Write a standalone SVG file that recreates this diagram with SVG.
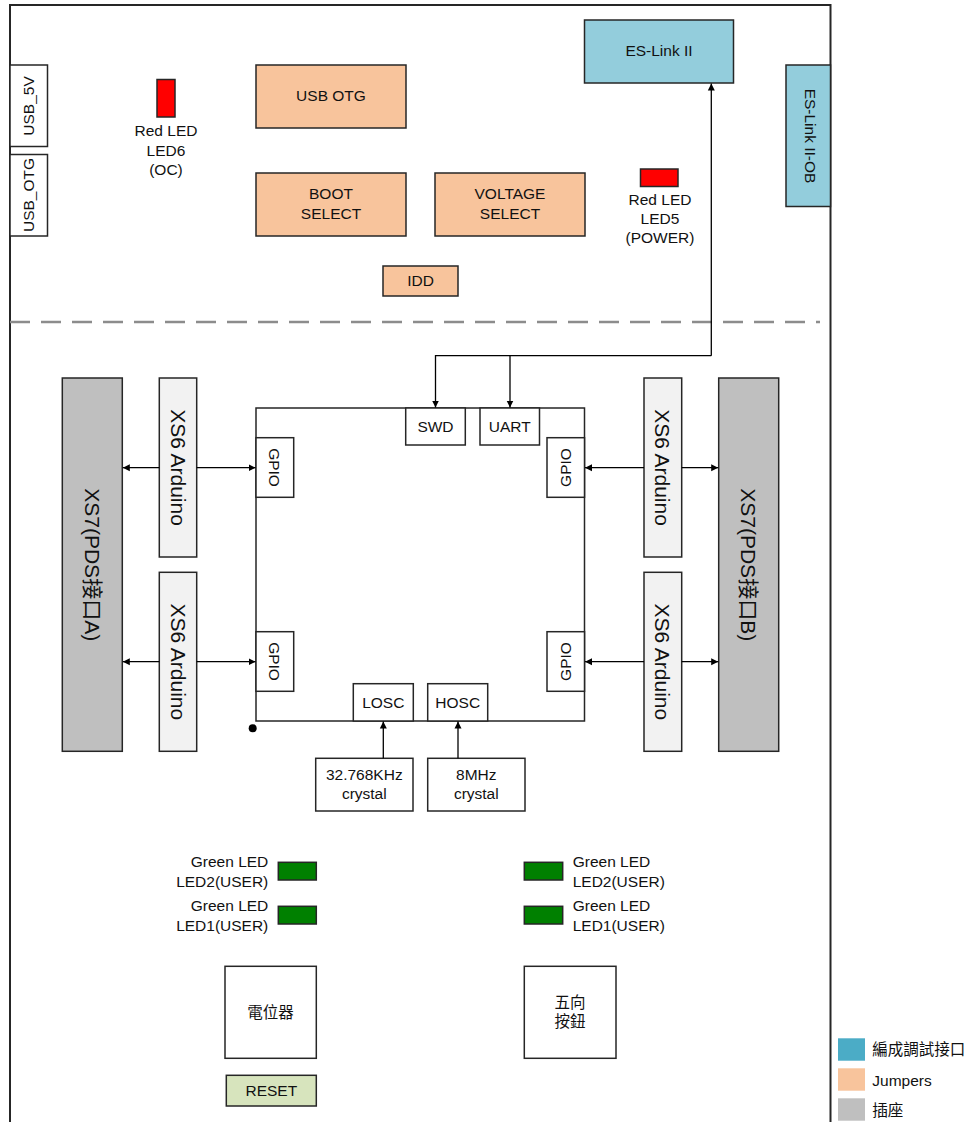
<svg xmlns="http://www.w3.org/2000/svg" width="971" height="1122" viewBox="0 0 971 1122">
<style>
text{font-family:"Liberation Sans","Noto Sans CJK TC",sans-serif;font-size:15.5px;fill:#111;text-anchor:middle}
.big{font-size:21px}
.box{stroke:#262626;stroke-width:1.5}
.w{fill:#fff}
.jmp{fill:#F8C49C}
.dbg{fill:#93CDDC}
.hdr{fill:#BFBFBF}
.ard{fill:#F2F2F2}
.red{fill:#FF0000}
.grn{fill:#008000}
.ln{fill:none;stroke:#000;stroke-width:1.3}
.l{text-anchor:start}
.r{text-anchor:end}
</style>
<defs>
<marker id="ah" markerUnits="userSpaceOnUse" markerWidth="8" markerHeight="8" refX="7" refY="4" orient="auto">
<path d="M0,0.5 L7,4 L0,7.5 z" fill="#000"/>
</marker>
</defs>
<rect width="971" height="1122" fill="#fff"/>
<g id="frame">
<path d="M10,1122 V5 H830.5 V1122" fill="none" stroke="#262626" stroke-width="2"/>
<line x1="10" y1="322" x2="820" y2="322" stroke="#8c8c8c" stroke-width="2.5" stroke-dasharray="20 11"/>
</g>
<g id="usb5v"><rect class="box w" x="10" y="65" width="37.5" height="81.5"/><text transform="translate(28.5,106) rotate(-90)" y="5.5">USB_5V</text></g>
<g id="usbotg-port"><rect class="box w" x="10" y="154.5" width="37.5" height="81.5"/><text transform="translate(28.5,195) rotate(-90)" y="5.5">USB_OTG</text></g>
<g id="led6"><rect class="box red" x="157" y="79.5" width="18" height="37.5"/><text x="166" y="135.5">Red LED</text><text x="166" y="155.5">LED6</text><text x="166" y="174.8">(OC)</text></g>
<g id="usb-otg"><rect class="box jmp" x="256" y="65" width="150" height="63"/><text x="331" y="101.2">USB OTG</text></g>
<g id="boot-select"><rect class="box jmp" x="256" y="173" width="150" height="63"/><text x="331" y="198.8">BOOT</text><text x="331" y="218.8">SELECT</text></g>
<g id="voltage-select"><rect class="box jmp" x="435" y="173" width="150" height="63"/><text x="510" y="198.8">VOLTAGE</text><text x="510" y="218.8">SELECT</text></g>
<g id="idd"><rect class="box jmp" x="383" y="266" width="75" height="30"/><text x="420.5" y="285.8">IDD</text></g>
<g id="es-link"><rect class="box dbg" x="584.5" y="20" width="149" height="63"/><text x="659" y="56.2">ES-Link II</text></g>
<g id="es-link-ob"><rect class="box dbg" x="786" y="65" width="44.5" height="141.5"/><text transform="translate(810,136) rotate(90)" y="5.5">ES-Link II-OB</text></g>
<g id="led5"><rect class="box red" x="640.5" y="169" width="37.5" height="17.5"/><text x="660" y="204.5">Red LED</text><text x="660" y="223.5">LED5</text><text x="660" y="242.5">(POWER)</text></g>
<g id="mcu">
<rect class="box w" x="256" y="408" width="328.5" height="313"/>
<circle cx="252.7" cy="728.3" r="4" fill="#000"/>
</g>
<g id="swd"><rect class="box w" x="405.7" y="408" width="59.6" height="37"/><text x="435.5" y="432">SWD</text></g>
<g id="uart"><rect class="box w" x="480" y="408" width="59.5" height="37"/><text x="509.8" y="432">UART</text></g>
<g id="gpio-l1"><rect class="box w" x="256" y="437.7" width="37.7" height="59.6"/><text transform="translate(274.8,467.5) rotate(90)" y="5.5">GPIO</text></g>
<g id="gpio-l2"><rect class="box w" x="256" y="631.7" width="37.7" height="59.6"/><text transform="translate(274.8,661.5) rotate(90)" y="5.5">GPIO</text></g>
<g id="gpio-r1"><rect class="box w" x="547" y="437.7" width="37.5" height="59.6"/><text transform="translate(565.7,467.5) rotate(-90)" y="5.5">GPIO</text></g>
<g id="gpio-r2"><rect class="box w" x="547" y="631.7" width="37.5" height="59.6"/><text transform="translate(565.7,661.5) rotate(-90)" y="5.5">GPIO</text></g>
<g id="losc"><rect class="box w" x="353.3" y="683.7" width="60" height="37.3"/><text x="383.3" y="707.8">LOSC</text></g>
<g id="hosc"><rect class="box w" x="427.7" y="683.7" width="60" height="37.3"/><text x="457.7" y="707.8">HOSC</text></g>
<g id="xtal32"><rect class="box w" x="315.7" y="758.3" width="97.3" height="52.7"/><text x="364.3" y="779.8">32.768KHz</text><text x="364.3" y="798.8">crystal</text></g>
<g id="xtal8"><rect class="box w" x="427.7" y="758.3" width="97.3" height="52.7"/><text x="476.3" y="779.8">8MHz</text><text x="476.3" y="798.8">crystal</text></g>
<g id="xs7a"><rect class="box hdr" x="62.3" y="378" width="60" height="373.3"/><text class="big" transform="translate(92.3,564.7) rotate(90)" y="7.5">XS7(PDS接口A)</text></g>
<g id="xs6-l1"><rect class="box ard" x="159.3" y="378" width="37.4" height="179"/><text class="big" transform="translate(178,467.5) rotate(90)" y="7.5">XS6 Arduino</text></g>
<g id="xs6-l2"><rect class="box ard" x="159.3" y="572.3" width="37.4" height="179"/><text class="big" transform="translate(178,661.8) rotate(90)" y="7.5">XS6 Arduino</text></g>
<g id="xs6-r1"><rect class="box ard" x="644" y="378" width="37.7" height="179"/><text class="big" transform="translate(662.8,467.5) rotate(90)" y="7.5">XS6 Arduino</text></g>
<g id="xs6-r2"><rect class="box ard" x="644" y="572.3" width="37.7" height="179"/><text class="big" transform="translate(662.8,661.8) rotate(90)" y="7.5">XS6 Arduino</text></g>
<g id="xs7b"><rect class="box hdr" x="718.7" y="378" width="60" height="373.3"/><text class="big" transform="translate(748.7,564.7) rotate(90)" y="7.5">XS7(PDS接口B)</text></g>
<g id="connectors">
<path class="ln" d="M711.3,355.7 V83.5" marker-end="url(#ah)"/>
<path class="ln" d="M711.3,355.7 H435.5 V407.5" marker-end="url(#ah)"/>
<path class="ln" d="M510,355.7 V407.5" marker-end="url(#ah)"/>
<path class="ln" d="M159.3,467.7 H122.8" marker-end="url(#ah)"/>
<path class="ln" d="M196.7,467.7 H255.5" marker-end="url(#ah)"/>
<path class="ln" d="M159.3,661.7 H122.8" marker-end="url(#ah)"/>
<path class="ln" d="M196.7,661.7 H255.5" marker-end="url(#ah)"/>
<path class="ln" d="M644,467.7 H585" marker-end="url(#ah)"/>
<path class="ln" d="M681.7,467.7 H718.2" marker-end="url(#ah)"/>
<path class="ln" d="M644,661.7 H585" marker-end="url(#ah)"/>
<path class="ln" d="M681.7,661.7 H718.2" marker-end="url(#ah)"/>
<path class="ln" d="M383.3,758.3 V721.5" marker-end="url(#ah)"/>
<path class="ln" d="M458,758.3 V721.5" marker-end="url(#ah)"/>
</g>
<g id="led2-l"><rect class="box grn" x="278.3" y="862.3" width="38" height="17.7"/><text class="r" x="268.3" y="867.2">Green LED</text><text class="r" x="268.3" y="887.2">LED2(USER)</text></g>
<g id="led1-l"><rect class="box grn" x="278.3" y="906.3" width="38" height="17.7"/><text class="r" x="268.3" y="911.2">Green LED</text><text class="r" x="268.3" y="930.5">LED1(USER)</text></g>
<g id="led2-r"><rect class="box grn" x="524.3" y="862.3" width="38.4" height="17.7"/><text class="l" x="572.7" y="867.2">Green LED</text><text class="l" x="572.7" y="887.2">LED2(USER)</text></g>
<g id="led1-r"><rect class="box grn" x="524.3" y="906.3" width="38.4" height="17.7"/><text class="l" x="572.7" y="911.2">Green LED</text><text class="l" x="572.7" y="930.5">LED1(USER)</text></g>
<g id="pot"><rect class="box w" x="225" y="966.3" width="91.3" height="92"/><text x="270.6" y="1018">電位器</text></g>
<g id="reset"><rect class="box" fill="#D7E4BD" x="226.3" y="1075.3" width="90" height="30.7"/><text x="271.3" y="1096">RESET</text></g>
<g id="joystick"><rect class="box w" x="524.3" y="966.3" width="91.7" height="92"/><text x="570" y="1008">五向</text><text x="570" y="1027">按鈕</text></g>
<g id="legend">
<rect x="838" y="1038.3" width="27" height="22.4" fill="#4BACC6"/><text class="l" x="872.3" y="1055">編成調試接口</text>
<rect x="838" y="1068.3" width="27" height="22.4" fill="#F8C49C"/><text class="l" x="872.3" y="1085.5">Jumpers</text>
<rect x="838" y="1098.3" width="27" height="22.4" fill="#BFBFBF"/><text class="l" x="872.3" y="1115.5">插座</text>
</g>
</svg>
